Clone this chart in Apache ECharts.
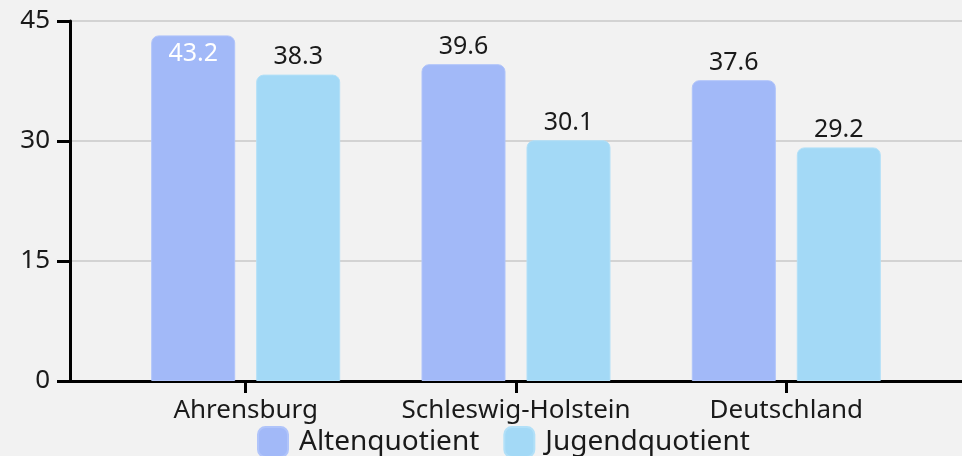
<!DOCTYPE html>
<html>
<head>
<meta charset="utf-8">
<script src="https://cdn.jsdelivr.net/npm/echarts@6/dist/echarts.min.js"></script>
<style>
  html, body { margin: 0; padding: 0; background: #f2f2f2; }
  #chart { width: 962px; height: 456px; }
</style>
</head>
<body>
<div id="chart"></div>
<script>
// Kategorien und Werte
var regionen = ['Ahrensburg', 'Schleswig-Holstein', 'Deutschland'];
var altenquotient = [43.2, 39.6, 37.6];
var jugendquotient = [38.3, 30.1, 29.2];
var yTicks = [0, 15, 30, 45];

var FONT = 'Noto Sans';
var TEXT = '#1a1a1a';

// x ist eine Wertachse, damit die Achsenlinie ueber die ganze Breite geht
function toPoints(arr) {
    return arr.map(function (v, i) { return [i, v]; });
}

var altenData = toPoints(altenquotient);
// 43.2 passt nicht ueber den Balken -> weiss, innen
altenData[0] = {
    value: altenData[0],
    label: { position: 'insideTop', color: '#ffffff', distance: 6 }
};

var myChart = echarts.init(document.getElementById('chart'));
var option = {
    backgroundColor: '#f2f2f2',
    animation: false,
    textStyle: { fontFamily: FONT },
    grid: { left: 70, right: 0, top: 21, bottom: 75 },
    legend: {
        left: 257,
        top: 426,
        padding: 0,
        itemWidth: 30,
        itemHeight: 30,
        itemGap: 24,
        icon: 'roundRect',
        textStyle: { fontFamily: FONT, fontSize: 28, lineHeight: 30, color: TEXT, padding: [0, 0, 0, 6] },
        data: ['Altenquotient', 'Jugendquotient']
    },
    xAxis: {
        type: 'value',
        min: -0.65,
        max: 2.65,
        splitLine: { show: false },
        axisLine: { show: true, lineStyle: { color: '#000', width: 3 } },
        axisTick: { show: true, customValues: [0, 1, 2], length: 12, lineStyle: { color: '#000', width: 3 } },
        axisLabel: {
            customValues: [0, 1, 2],
            margin: 17,
            fontFamily: FONT,
            fontSize: 26,
            color: TEXT,
            formatter: function (v) { return regionen[Math.round(v)]; }
        }
    },
    yAxis: {
        type: 'value',
        min: yTicks[0],
        max: yTicks[yTicks.length - 1],
        interval: 15,
        axisLine: { show: true, onZero: false, lineStyle: { color: '#000', width: 3 } },
        axisTick: { show: true, length: 13, lineStyle: { color: '#000', width: 3 } },
        axisLabel: { margin: 20, fontFamily: FONT, fontSize: 26, color: TEXT },
        splitLine: { lineStyle: { color: '#c8c8c8', width: 1.5 } }
    },
    series: [
        {
            name: 'Altenquotient',
            type: 'bar',
            barWidth: 84,
            barGap: '25%',
            data: altenData,
            itemStyle: { color: '#a2b9f8', borderRadius: [7, 7, 0, 0], borderColor: '#b0c4fa', borderWidth: 1 },
            label: { show: true, position: 'top', distance: 5, fontFamily: FONT, fontSize: 25, color: TEXT,
                formatter: function (p) { return p.value[1].toFixed(1); } }
        },
        {
            name: 'Jugendquotient',
            type: 'bar',
            barWidth: 84,
            barGap: '25%',
            data: toPoints(jugendquotient),
            itemStyle: { color: '#a3d9f6', borderRadius: [7, 7, 0, 0], borderColor: '#b2e0f8', borderWidth: 1 },
            label: { show: true, position: 'top', distance: 5, fontFamily: FONT, fontSize: 25, color: TEXT,
                formatter: function (p) { return p.value[1].toFixed(1); } }
        }
    ]
};
option && myChart.setOption(option);
</script>
</body>
</html>
